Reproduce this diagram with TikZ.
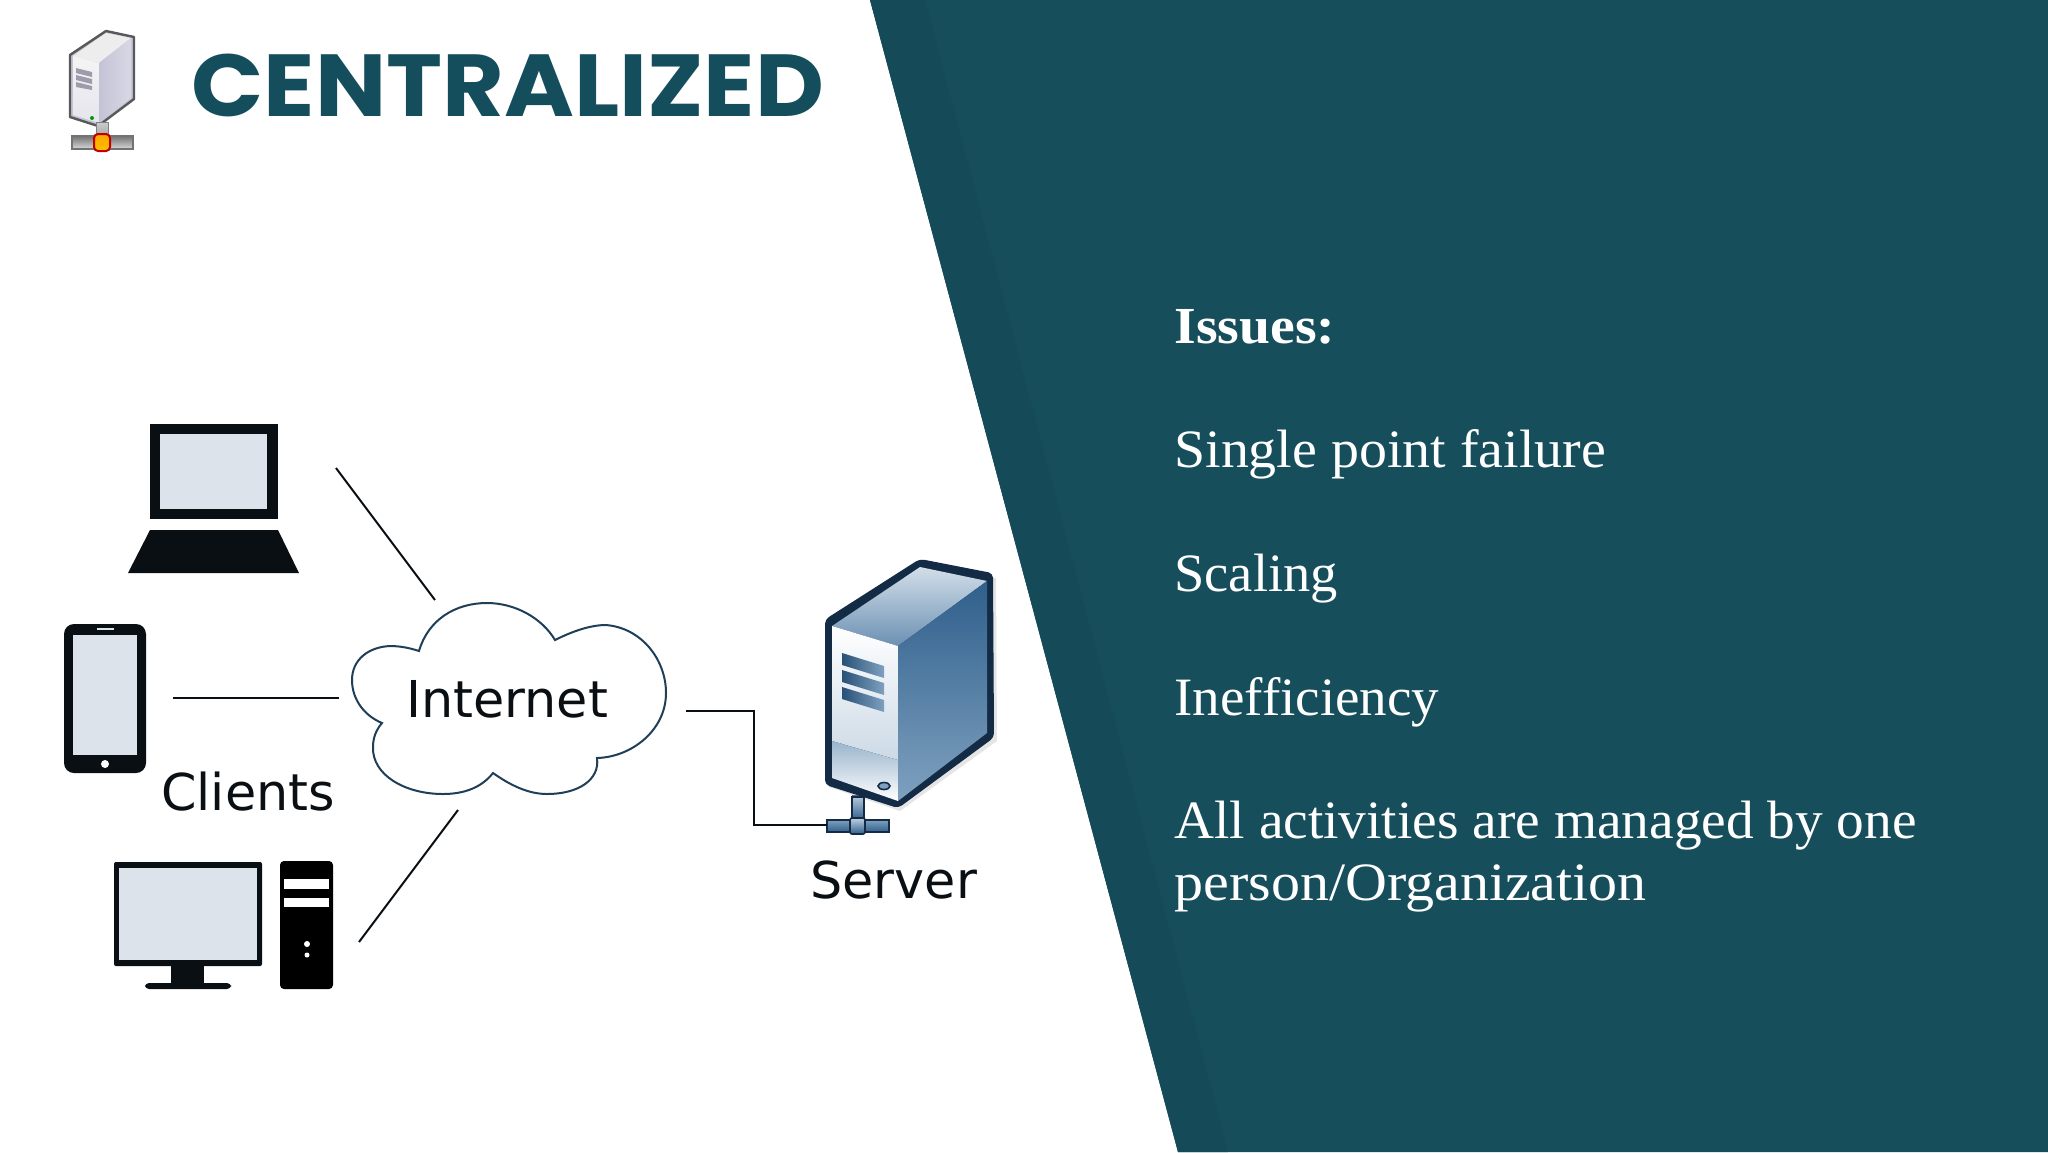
\documentclass[tikz,border=0pt]{standalone}
\usepackage{fontspec}
\setmainfont{Liberation Serif}
\newfontfamily\titlefont{Poppins}
\newfontfamily\labelfont{DejaVu Sans}
\definecolor{teal}{HTML}{174E5C}
\definecolor{tealdark}{HTML}{154A58}
\definecolor{titleteal}{HTML}{144E5C}
\definecolor{ink}{HTML}{0A0F14}
\definecolor{screen}{HTML}{DCE3EA}
\definecolor{srvdark}{HTML}{132B45}
\definecolor{srvmid}{HTML}{2F5F8C}
\definecolor{srvlight}{HTML}{7FA1BF}
\definecolor{cloudline}{HTML}{1F3F58}
\definecolor{iconface}{HTML}{C4C3D6}
\tikzset{
  wire/.style={draw=ink,line width=1pt},
  devdark/.style={fill=ink,draw=none},
  devscreen/.style={fill=screen,draw=none},
  lbl/.style={font=\labelfont\fontsize{25.4}{30}\selectfont,text=ink,inner sep=0pt,anchor=base west},
  issue/.style={font=\fontsize{27}{32}\selectfont,text=white,inner sep=0pt,anchor=base west},
}
\begin{document}
\begin{tikzpicture}[x=0.5pt,y=-0.5pt]
\useasboundingbox (0,0) rectangle (2048,1152);
\fill[white] (0,0) rectangle (2048,1152);
% panel
\fill[teal] (870,0) -- (2048,0) -- (2048,1152) -- (1178,1152) -- cycle;
\fill[tealdark] (870,0) -- (925,0) -- (1228,1152) -- (1178,1152) -- cycle;
% title icon
\draw[draw=black!65,line width=1.2pt,line join=round,fill=iconface] (106,31) -- (134,37) -- (134,99) -- (98,126) -- (70,117) -- (70,55) -- cycle;
\fill[black!7] (106,33) -- (131,38) -- (99,63) -- (73,56) -- cycle;
\shade[top color=black!4,bottom color=iconface!45!white] (73,56) -- (99,63) -- (99,123) -- (73,115) -- cycle;
\shade[left color=iconface,right color=iconface!65!white] (99,63) -- (131,38) -- (131,98) -- (99,123) -- cycle;
\fill[iconface!80!black] (76,68) -- (92,72) -- (92,77) -- (76,73) -- cycle;
\fill[iconface!80!black] (76,75) -- (92,79) -- (92,84) -- (76,80) -- cycle;
\fill[iconface!80!black] (76,82) -- (92,86) -- (92,90) -- (76,87) -- cycle;
\fill[green!60!black] (92,118) circle (2);
\shade[draw=black!50,line width=.5pt,top color=black!20,bottom color=black!35] (96,122) rectangle (108,137);
\shade[draw=black!55,line width=.6pt,top color=black!55,bottom color=black!15] (72,136) rectangle (133,149);
\shade[draw=red!75!black,line width=1pt,rounded corners=2pt,top color=orange!70!yellow,bottom color=orange!50!yellow] (94,134) rectangle (110,151);
\node[font=\titlefont\bfseries\fontsize{44}{50}\selectfont,text=titleteal,inner sep=0pt,anchor=base west,xscale=1.078] (title) at (191,116) {CENTRALIZED};
% laptop
\fill[devdark] (150,424) rectangle (278,519);
\fill[devscreen] (160,434) rectangle (267,509);
\fill[devdark] (150,530) -- (278,530) -- (299,573) -- (128,573) -- cycle;
% tablet
\fill[devdark,rounded corners=5pt] (64,624) rectangle (146,773);
\fill[devscreen] (73,635) rectangle (137,755);
\draw[screen,line width=.8pt] (97,629) -- (114,629);
\fill[white] (105,764) circle (4);
% desktop
\fill[devdark,rounded corners=1pt] (114,862) rectangle (262,966);
\fill[devscreen] (119,868) rectangle (257,960);
\fill[devdark] (171,966) rectangle (204,984);
\fill[devdark,rounded corners=2pt] (145,983) rectangle (231,989);
\fill[black,rounded corners=2pt] (280,861) rectangle (333,989);
\fill[white] (284,879) rectangle (329,889);
\fill[white] (284,898) rectangle (329,907);
\fill[white] (307,944) circle (3);
\fill[white] (307,955) circle (2.5);
% cloud
\draw[draw=cloudline,line width=1pt,fill=white,line join=miter] (419,651)
  .. controls (428,620) and (455,603) .. (487,603)
  .. controls (515,603) and (542,618) .. (555,640)
  .. controls (575,630) and (592,625) .. (606,625)
  .. controls (642,628) and (666,660) .. (666,693)
  .. controls (666,730) and (632,757) .. (597,758)
  .. controls (600,780) and (578,794) .. (547,794)
  .. controls (528,794) and (510,785) .. (493,773)
  .. controls (482,787) and (465,794) .. (443,794)
  .. controls (405,794) and (372,775) .. (373,747)
  .. controls (373,738) and (376,730) .. (382,723)
  .. controls (365,716) and (352,700) .. (352,680)
  .. controls (352,660) and (368,647) .. (390,646)
  .. controls (400,646) and (410,648) .. (419,651) -- cycle;
\node[lbl] (internet) at (406,717) {Internet};
\node[lbl] (clients) at (161,810) {Clients};
% server
\fill[black!25,opacity=.4] (829,625) -- (920,563) -- (996,578) -- (997,741) -- (900,811) -- (829,787) -- cycle;
\shade[top color=srvlight!70!black,bottom color=srvmid,draw=none] (852,795) rectangle (864,820);
\fill[srvdark,draw=srvdark,line width=1pt,line join=round,rounded corners=2pt] (920,560) -- (992,574) -- (993,737) -- (898,807) -- (826,784) -- (826,620) -- cycle;
\shade[top color=white!65!srvlight,bottom color=srvlight!75!srvmid] (920,567) -- (987,581) -- (898,646) -- (832,626) -- cycle;
\shade[top color=white,bottom color=srvlight!40!white] (832,626) -- (898,646) -- (898,760) -- (832,741) -- cycle;
\shade[top color=srvlight!80!white,bottom color=white] (832,741) -- (898,760) -- (898,801) -- (832,778) -- cycle;
\shade[shading angle=30,top color=srvmid,bottom color=srvlight] (898,646) -- (987,581) -- (987,733) -- (898,801) -- cycle;
\shade[left color=srvmid!85!black,right color=srvlight] (842,653) -- (884,666) -- (884,678) -- (842,665) -- cycle;
\shade[left color=srvmid!85!black,right color=srvlight] (842,670) -- (884,683) -- (884,695) -- (842,682) -- cycle;
\shade[left color=srvmid!85!black,right color=srvlight] (842,687) -- (884,700) -- (884,712) -- (842,699) -- cycle;
\draw[draw=srvdark,fill=srvlight,line width=.8pt] (884,786) ellipse (6 and 3.5);
\shade[draw=srvdark,line width=.8pt,top color=srvlight!60!white,bottom color=srvmid] (852,797) rectangle (864,820);
\shade[draw=srvdark,line width=.8pt,top color=srvlight,bottom color=srvmid] (827,820) rectangle (889,832);
\shade[draw=srvdark,line width=.8pt,rounded corners=1pt,top color=srvlight!50!white,bottom color=srvmid] (850,818) rectangle (865,834);
\node[lbl] (server) at (810,898) {Server};
% connectors
\coordinate (laptopEnd) at (336,468);
\coordinate (cloudNW) at (435,600);
\coordinate (tabletEnd) at (173,698);
\coordinate (cloudW) at (339,698);
\coordinate (desktopEnd) at (359,942);
\coordinate (cloudS) at (458,810);
\coordinate (cloudE) at (686,711);
\coordinate (serverEnd) at (827,825);
\draw[wire] (laptopEnd) -- (cloudNW);
\draw[wire] (tabletEnd) -- (cloudW);
\draw[wire] (desktopEnd) -- (cloudS);
\draw[wire] (cloudE) -| (754,825) -- (serverEnd);
% text
\node[issue,font=\bfseries\fontsize{26}{32}\selectfont,xscale=1.07] (t1) at (1174,343) {Issues:};
\node[issue,xscale=1.035] (t2) at (1174,467) {Single point failure};
\node[issue,xscale=1.008] (t3) at (1174,591) {Scaling};
\node[issue,xscale=1.02] (t4) at (1174,715) {Inefficiency};
\node[issue,xscale=1.025] (t5) at (1174,838) {All activities are managed by one};
\node[issue,xscale=1.074] (t6) at (1174,900) {person/Organization};
\end{tikzpicture}
\end{document}
